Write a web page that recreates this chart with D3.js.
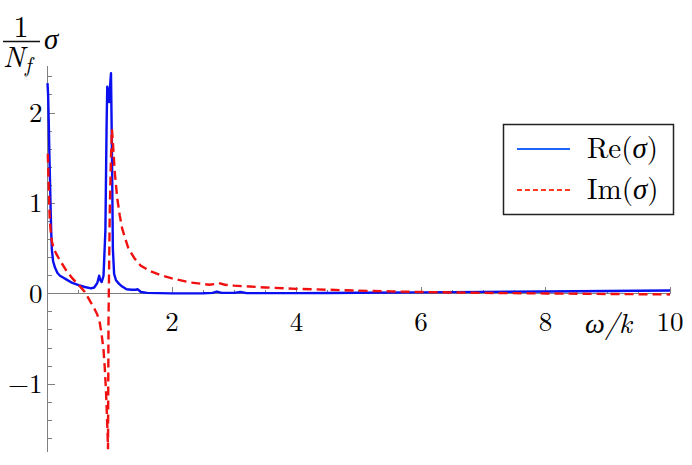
<!DOCTYPE html>
<html>
<head>
<meta charset="utf-8">
<script src="https://cdn.jsdelivr.net/npm/d3@7"></script>
<style>
  body { margin: 0; background: #fff; }
</style>
</head>
<body>
<script>
const width  = 692;
const height = 465;
const serif  = "'Latin Modern Roman'";

// omega/k samples for Re(sigma)
const reX = [0, 0.01, 0.02, 0.03, 0.04, 0.05, 0.06, 0.07, 0.09, 0.12, 0.16, 0.2, 0.25, 0.3, 0.4, 0.5,
  0.6, 0.7, 0.75, 0.8, 0.83, 0.85, 0.87, 0.9, 0.93, 0.95, 0.96, 0.98, 0.99, 1.0, 1.02, 1.035, 1.05,
  1.07, 1.1, 1.15, 1.2, 1.27, 1.35, 1.42, 1.45, 1.5, 1.6, 1.8, 2.0, 2.5, 2.65, 2.72, 2.8, 3.0, 3.1,
  3.2, 3.5, 4, 4.5, 5, 6, 7, 8, 9, 10];
const reY = [2.33, 2.2, 1.9, 1.55, 1.26, 0.95, 0.68, 0.49, 0.36, 0.29, 0.23, 0.2, 0.18, 0.16, 0.12, 0.095,
  0.075, 0.06, 0.07, 0.12, 0.2, 0.15, 0.13, 0.2, 0.7, 1.9, 2.29, 2.2, 2.12, 2.25, 2.44, 1.6, 0.5,
  0.22, 0.15, 0.11, 0.08, 0.05, 0.045, 0.045, 0.05, 0.02, 0.01, 0.007, 0.005, 0.006, 0.01, 0.025, 0.01, 0.01, 0.02,
  0.008, 0.007, 0.007, 0.009, 0.011, 0.016, 0.021, 0.026, 0.031, 0.036];

// omega/k samples for Im(sigma)
const imX = [0.005, 0.015, 0.025, 0.035, 0.05, 0.07, 0.1, 0.15, 0.2, 0.3, 0.4, 0.5, 0.55, 0.6, 0.65, 0.7,
  0.75, 0.8, 0.84, 0.87, 0.9, 0.92, 0.94, 0.955, 0.965, 0.972, 0.98, 0.99, 1.0, 1.02, 1.035, 1.05,
  1.08, 1.12, 1.16, 1.2, 1.3, 1.4, 1.5, 1.65, 1.8, 2.0, 2.3, 2.6, 2.7, 2.75, 2.85, 3.0, 3.25, 3.5,
  4.0, 4.5, 5.0, 5.5, 6.0, 7.0, 8.0, 9.0, 10.0];
const imY = [1.55, 1.3, 1.05, 0.85, 0.7, 0.58, 0.5, 0.43, 0.37, 0.26, 0.17, 0.1, 0.06, 0.02, -0.04, -0.1,
  -0.16, -0.23, -0.32, -0.45, -0.62, -0.82, -1.08, -1.35, -1.55, -1.72, -0.3, 0.3, 0.9, 1.5, 1.82, 1.68,
  1.35, 1.06, 0.87, 0.72, 0.5, 0.39, 0.31, 0.25, 0.21, 0.17, 0.125, 0.1, 0.11, 0.12, 0.1, 0.09, 0.08, 0.07,
  0.055, 0.045, 0.035, 0.027, 0.02, 0.01, 0.004, -0.002, -0.007];

const xMajor = [2, 4, 6, 8, 10];
const yMajor = [-1, 0, 1, 2];
const legendLabels = ['Re', 'Im'];

const x = d3.scaleLinear().domain([0, 10]).range([47.5, 670]);
const y = d3.scaleLinear().domain([-1.75, 2.52]).range([452, 66]);

const svg = d3.select('body').append('svg')
  .attr('width', width)
  .attr('height', height);

const axisColor = '#808080';

// minor ticks
const xMinor = d3.range(0.5, 10.01, 0.5).filter(v => xMajor.indexOf(v) < 0);
const yMinor = d3.range(-1.6, 2.41, 0.2).map(v => Math.round(v * 10) / 10).filter(v => yMajor.indexOf(v) < 0);

const axes = svg.append('g').attr('stroke', axisColor).attr('stroke-width', 1).attr('shape-rendering', 'crispEdges');

axes.append('line').attr('x1', x(0)).attr('x2', x(10)).attr('y1', y(0)).attr('y2', y(0));
axes.append('line').attr('x1', x(0)).attr('x2', x(0)).attr('y1', y(2.52)).attr('y2', y(-1.75));

axes.selectAll('.xmaj').data(xMajor).enter().append('line')
  .attr('x1', d => x(d)).attr('x2', d => x(d))
  .attr('y1', y(0)).attr('y2', y(0) - 7);
axes.selectAll('.xmin').data(xMinor).enter().append('line')
  .attr('x1', d => x(d)).attr('x2', d => x(d))
  .attr('y1', y(0)).attr('y2', y(0) - 4);
axes.selectAll('.ymaj').data(yMajor).enter().append('line')
  .attr('x1', x(0)).attr('x2', x(0) + 7)
  .attr('y1', d => y(d)).attr('y2', d => y(d));
axes.selectAll('.ymin').data(yMinor).enter().append('line')
  .attr('x1', x(0)).attr('x2', x(0) + 4)
  .attr('y1', d => y(d)).attr('y2', d => y(d));

// tick labels
svg.selectAll('.xlab').data(xMajor).enter().append('text')
  .attr('x', d => x(d)).attr('y', y(0) + 37)
  .attr('text-anchor', 'middle').style('font-size', '27px').style('font-family', serif)
  .text(d => d);
svg.selectAll('.ylab').data(yMajor).enter().append('text')
  .attr('x', x(0) - 5).attr('y', d => y(d) + 9)
  .attr('text-anchor', 'end').style('font-size', '27px').style('font-family', serif)
  .text(d => d < 0 ? '−' + Math.abs(d) : d);

// axis labels
svg.append('text').attr('x', 585).attr('y', 333)
  .style('font-size', '28px').style('font-style', 'italic').style('font-family', serif)
  .text('ω/k');

const ylab = svg.append('g').style('font-family', serif);
ylab.append('text').attr('x', 21).attr('y', 37).attr('text-anchor', 'middle')
  .style('font-size', '30px').text('1');
ylab.append('line').attr('x1', 3).attr('x2', 40).attr('y1', 41.5).attr('y2', 41.5)
  .attr('stroke', '#111').attr('stroke-width', 1.3);
ylab.append('text').attr('x', 3).attr('y', 67)
  .style('font-size', '29px').style('font-style', 'italic').text('N');
ylab.append('text').attr('x', 25).attr('y', 72)
  .style('font-size', '21px').style('font-style', 'italic').text('f');
ylab.append('text').attr('x', 44).attr('y', 49)
  .style('font-size', '29px').style('font-style', 'italic').text('σ');

// curves
const line = d3.line().x(d => x(d[0])).y(d => y(d[1]));

svg.append('path')
  .attr('d', line(reX.map((v, i) => [v, reY[i]])))
  .attr('fill', 'none').attr('stroke', '#0a0ff0').attr('stroke-width', 2.4)
  .attr('stroke-linejoin', 'round');

svg.append('path')
  .attr('d', line(imX.map((v, i) => [v, imY[i]])))
  .attr('fill', 'none').attr('stroke', '#f01010').attr('stroke-width', 2.4)
  .attr('stroke-dasharray', '9,5');

// legend
const legend = svg.append('g').style('font-family', serif);
legend.append('rect').attr('x', 503.5).attr('y', 124.5).attr('width', 170).attr('height', 90)
  .attr('fill', '#fff').attr('stroke', '#222').attr('stroke-width', 1.5);

const legendStyles = [
  {color: '#1f64ff', dash: null},
  {color: '#ff3c1e', dash: '5,3'}
];
legendLabels.forEach((lab, i) => {
  const ly = 149 + i * 41;
  legend.append('line').attr('x1', 517).attr('x2', 570).attr('y1', ly).attr('y2', ly)
    .attr('stroke', legendStyles[i].color).attr('stroke-width', 2)
    .attr('stroke-dasharray', legendStyles[i].dash);
  const t = legend.append('text').attr('x', 587).attr('y', ly + 9).style('font-size', '29px');
  t.append('tspan').text(lab + '(');
  t.append('tspan').style('font-style', 'italic').text('σ');
  t.append('tspan').text(')');
});
</script>
</body>
</html>
